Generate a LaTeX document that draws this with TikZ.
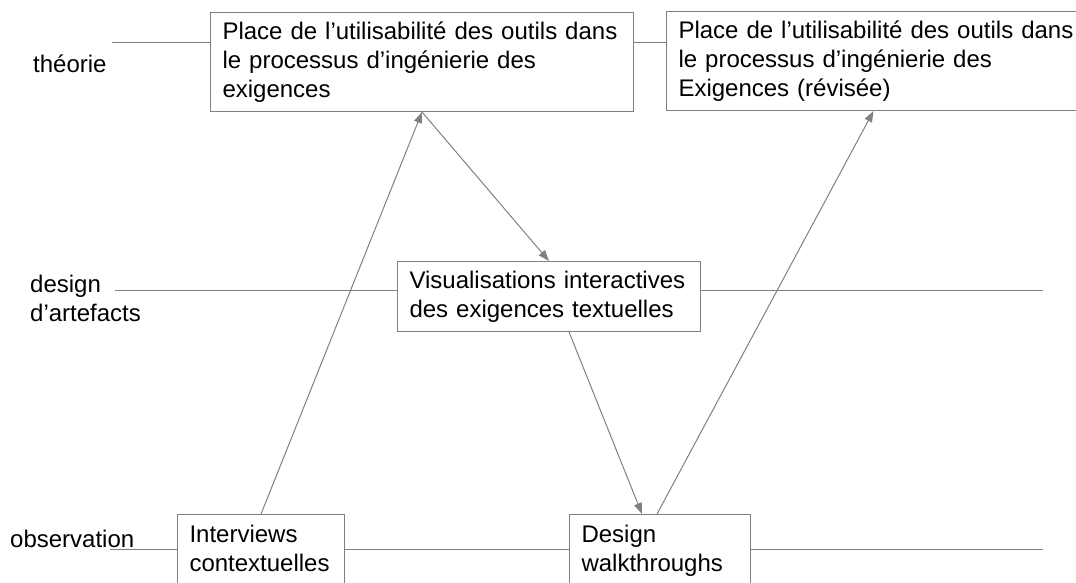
\documentclass[tikz,border=0pt]{standalone}
\usepackage{fontspec}
\setmainfont{Liberation Sans}
\usetikzlibrary{arrows.meta}

\definecolor{traitgris}{RGB}{128,128,128}

\tikzset{
  etape/.style={draw=traitgris, line width=1pt, align=left, inner xsep=12pt,
    anchor=north west},
  niveau/.style={align=left, inner sep=0pt, anchor=base west},
  lien/.style={draw=traitgris, line width=1pt},
  fleche/.style={lien, -{Triangle[length=11pt,width=8pt]}}
}

\begin{document}
\begin{tikzpicture}[x=1pt, y=-1pt, font=\fontsize{24}{29}\selectfont]

  % page of the reference
  \useasboundingbox (0,0) rectangle (1076,583);
  \clip (0,0) rectangle (1076,583);

  % levels on the left
  \node[niveau] (theorie) at (33,73) {théorie};
  \node[niveau] (design) at (30,321) {design\\d’artefacts};
  \node[niveau] (observ) at (10,547) {observation};

  % boxes
  \node[etape, text width=399pt, minimum height=99pt] (placeA) at (210,12)
    {Place de l’utilisabilité des outils dans\\le processus d’ingénierie des\\exigences};
  \node[etape, text width=400pt, minimum height=99pt] (placeB) at (666,11)
    {Place de l’utilisabilité des outils dans\\le processus d’ingénierie des\\Exigences (révisée)};
  \node[etape, text width=279pt, minimum height=70pt] (visu) at (397,261)
    {Visualisations interactives\\des exigences textuelles};
  \node[etape, text width=143pt, inner ysep=11pt, text depth=30pt] (interv) at (177,514)
    {Interviews\\contextuelles};
  \node[etape, text width=157pt, inner ysep=11pt, text depth=30pt] (walk) at (569,514)
    {Design\\walkthroughs};

  % free ends of the level lines
  \coordinate (tGauche) at (112,43);
  \coordinate (dGauche) at (115,290);
  \coordinate (dDroite) at (1043,290);
  \coordinate (oGauche) at (110,549);
  \coordinate (oDroite) at (1043,549);

  % level lines
  \draw[lien] (tGauche) -- (tGauche -| placeA.west);
  \draw[lien] (placeA.east |- tGauche) -- (placeB.west |- tGauche);
  \draw[lien] (dGauche) -- (dGauche -| visu.west);
  \draw[lien] (visu.east |- dDroite) -- (dDroite);
  \draw[lien] (oGauche) -- (oGauche -| interv.west);
  \draw[lien] (interv.east |- oGauche) -- (walk.west |- oGauche);
  \draw[lien] (walk.east |- oDroite) -- (oDroite);

  % steps of the process
  \draw[fleche] (interv.north) -- (placeA.south);
  \draw[fleche] (placeA.south) -- (visu.north);
  \draw[fleche] ([xshift=20pt]visu.south) -- ([xshift=-18pt]walk.north);
  \draw[fleche] ([xshift=-3pt]walk.north) -- ([xshift=-5pt]placeB.south);

\end{tikzpicture}
\end{document}
